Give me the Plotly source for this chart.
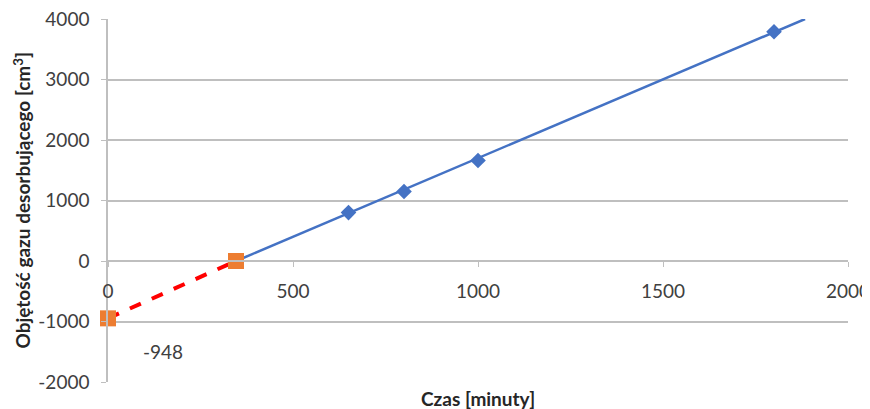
import plotly.graph_objects as go

# measured data points (time [min], gas volume [cm3])
data_x = [650, 800, 1000, 1800]
data_y = [800, 1150, 1660, 3790]

# fitted trend line (blue) from x-intercept to top of chart
trend_x = [346, 1884]
trend_y = [0, 4000]

# extrapolated part (red dashed) with orange end points
extra_x = [0, 346]
extra_y = [-948, 0]

label_text = "-948"

x_ticks = [0, 500, 1000, 1500, 2000]
x_labels = ["0", "500", "1000", "1500", "2000"]
y_ticks = [-2000, -1000, 0, 1000, 2000, 3000, 4000]
y_labels = ["-2000", "-1000", "0", "1000", "2000", "3000", "4000"]

FONT = "Lato"
TXT = "#404040"
GRID = "#BFBFBF"

fig = go.Figure()
fig.add_trace(go.Scatter(x=trend_x, y=trend_y, mode="lines",
                         line=dict(color="#4472C4", width=2.5), cliponaxis=True))
fig.add_trace(go.Scatter(x=data_x, y=data_y, mode="markers",
                         marker=dict(symbol="diamond", size=12, color="#4472C4")))
fig.add_trace(go.Scatter(x=extra_x, y=extra_y, mode="lines",
                         line=dict(color="#FF0000", width=4, dash="dash")))
fig.add_trace(go.Scatter(x=extra_x, y=extra_y, mode="markers", cliponaxis=False,
                         marker=dict(symbol="square", size=16, color="#ED7D31")))

fig.update_layout(
    width=862, height=401,
    margin=dict(l=100, r=22, t=11, b=27),
    paper_bgcolor="white", plot_bgcolor="white",
    showlegend=False,
    font=dict(family=FONT, size=19, color=TXT),
    xaxis=dict(range=[0, 2000], tickvals=x_ticks, ticktext=x_labels, showgrid=False,
               zeroline=False, automargin=False, ticklabeloverflow="allow",
               anchor="free", position=1/3, showline=True, linecolor=GRID, linewidth=1.5,
               ticks="outside", ticklen=5, tickcolor=GRID, ticklabelstandoff=8,
               tickfont=dict(family=FONT, size=19, color=TXT)),
    yaxis=dict(range=[-2000, 4000], tickvals=y_ticks, ticktext=y_labels, showgrid=True,
               gridcolor=GRID, automargin=False, ticklabeloverflow="allow",
               gridwidth=1.5, zeroline=False, showline=True, linecolor=GRID, linewidth=1.5,
               ticks="outside", ticklen=5, tickcolor=GRID, ticklabelstandoff=8,
               tickfont=dict(family=FONT, size=19, color=TXT)),
    annotations=[
        dict(text=label_text, x=extra_x[0], y=extra_y[0], xref="x", yref="y",
             xshift=55, yshift=-33, showarrow=False,
             font=dict(family=FONT, size=19, color=TXT)),
        dict(text="<b>Czas [minuty]</b>", x=0.5, y=0, xref="paper", yref="paper",
             yanchor="middle", yshift=-16, showarrow=False,
             font=dict(family=FONT, size=19, color="#262626")),
        dict(text="<b>Objętość gazu desorbującego [cm<sup>3</sup>]</b>", x=0, y=0.5,
             xref="paper", yref="paper", xanchor="center", yanchor="middle",
             xshift=-86, textangle=-90, showarrow=False,
             font=dict(family=FONT, size=19, color="#262626")),
    ],
)

fig.write_html("out.html")
